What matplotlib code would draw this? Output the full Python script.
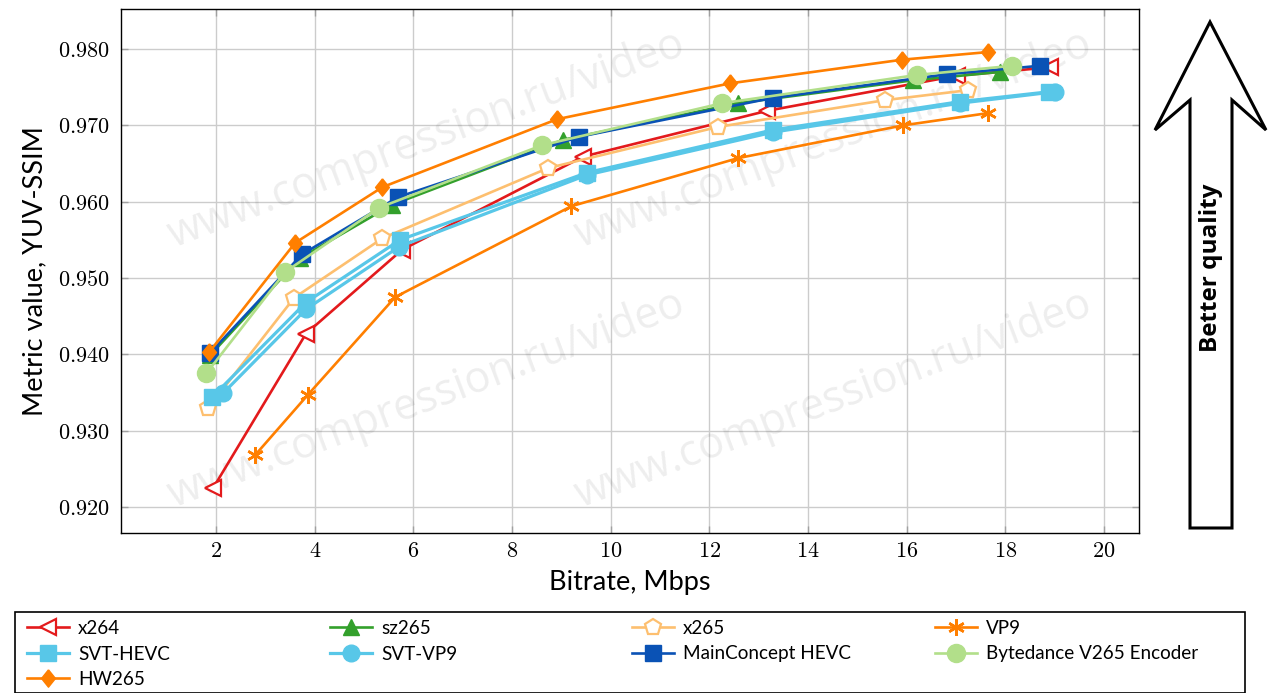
import matplotlib
matplotlib.use("Agg")
import matplotlib.pyplot as plt
from matplotlib.ticker import FuncFormatter, FixedLocator
from matplotlib.patches import Polygon, Rectangle

plt.rcParams['mathtext.fontset'] = 'cm'

# ---------------- data ----------------
x264_x = [1.94, 3.82, 5.77, 9.44, 13.17, 17.02, 18.91]
x264_y = [0.9225, 0.9427, 0.9537, 0.9659, 0.9719, 0.9765, 0.9776]

sz265_x = [1.88, 3.70, 5.57, 9.03, 12.58, 16.13, 17.89]
sz265_y = [0.9399, 0.9526, 0.9596, 0.9681, 0.9729, 0.9759, 0.9770]

x265_x = [1.84, 3.58, 5.37, 8.73, 12.18, 15.56, 17.24]
x265_y = [0.9330, 0.9474, 0.9552, 0.9644, 0.9698, 0.9733, 0.9746]

vp9_x = [2.79, 3.86, 5.63, 9.20, 12.58, 15.93, 17.65]
vp9_y = [0.9268, 0.9347, 0.9475, 0.9594, 0.9657, 0.9700, 0.9716]

svthevc_x = [1.92, 3.82, 5.73, 9.52, 13.29, 17.08, 18.89]
svthevc_y = [0.9344, 0.9468, 0.9550, 0.9638, 0.9694, 0.9731, 0.9744]

svtvp9_x = [2.14, 3.82, 5.71, 9.52, 13.29, 17.08, 19.01]
svtvp9_y = [0.9349, 0.9459, 0.9541, 0.9635, 0.9691, 0.9729, 0.9744]

mc_x = [1.88, 3.74, 5.69, 9.36, 13.29, 16.82, 18.70]
mc_y = [0.9402, 0.9531, 0.9606, 0.9685, 0.9736, 0.9767, 0.9778]

byte_x = [1.80, 3.40, 5.30, 8.61, 12.26, 16.21, 18.14]
byte_y = [0.9375, 0.9508, 0.9592, 0.9674, 0.9729, 0.9766, 0.9778]

hw_x = [1.86, 3.60, 5.37, 8.91, 12.42, 15.91, 17.65]
hw_y = [0.9403, 0.9546, 0.9619, 0.9708, 0.9755, 0.9786, 0.9796]

x_ticks = [2, 4, 6, 8, 10, 12, 14, 16, 18, 20]
y_ticks = [0.92, 0.93, 0.94, 0.95, 0.96, 0.97, 0.98]

# ---------------- figure ----------------
W, H = 1271, 693
fig = plt.figure(figsize=(W / 100, H / 100), dpi=100)
ax = fig.add_axes([121 / W, 1 - 533 / H, (1139 - 121) / W, (533 - 9) / H])

ax.set_xlim(0.07, 20.71)
ax.set_ylim(0.91659, 0.98524)

ax.xaxis.set_major_locator(FixedLocator(x_ticks))
ax.yaxis.set_major_locator(FixedLocator(y_ticks))
ax.xaxis.set_major_formatter(FuncFormatter(lambda v, p: r"$%d$" % round(v)))
ax.yaxis.set_major_formatter(FuncFormatter(lambda v, p: r"$%.3f$" % v))
ax.tick_params(axis='both', labelsize=16, direction='in', length=5, width=1,
               color='#a0a0a0', top=True, right=True)
ax.tick_params(axis='y', pad=8)
ax.tick_params(axis='x', pad=6)
ax.grid(True, color='#cccccc', linewidth=1.0, zorder=0)
ax.set_axisbelow(True)
for s in ax.spines.values():
    s.set_linewidth(1.0)
    s.set_color('black')

ax.set_xlabel("Bitrate, Mbps", fontsize=19.5, family='Lato', labelpad=6)
ax.set_ylabel("Metric value, YUV-SSIM", fontsize=19.5, family='Lato', labelpad=8)

# watermark
for (wx, wy) in [(0.30, 0.75), (0.70, 0.75), (0.30, 0.255), (0.70, 0.255)]:
    ax.text(wx, wy, "www.compression.ru/video", transform=ax.transAxes,
            fontsize=31, family='Open Sans', color='black', alpha=0.07,
            rotation=20.7, ha='center', va='center', zorder=1)

diamond = [(0, 1), (0.8, 0), (0, -1), (-0.8, 0), (0, 1)]

LW = 1.9
series = [
    ("x264", x264_x, x264_y, dict(color='#e31a1c', marker='<', ms=11, mfc='white', mec='#e31a1c', mew=1.6, lw=LW)),
    ("sz265", sz265_x, sz265_y, dict(color='#33a02c', marker='^', ms=11, mfc='#33a02c', mec='#33a02c', lw=LW)),
    ("x265", x265_x, x265_y, dict(color='#fdbf6f', marker='p', ms=12, mfc='white', mec='#fdbf6f', mew=1.6, lw=LW)),
    ("VP9", vp9_x, vp9_y, dict(color='#ff7f00', marker=(6, 2, 0), ms=12, mec='#ff7f00', mew=1.8, lw=LW)),
    ("SVT-HEVC", svthevc_x, svthevc_y, dict(color='#58c7e8', marker='s', ms=12, mfc='#58c7e8', mec='#58c7e8', lw=2.3)),
    ("SVT-VP9", svtvp9_x, svtvp9_y, dict(color='#58c7e8', marker='o', ms=12, mfc='#58c7e8', mec='#58c7e8', lw=2.3)),
    ("MainConcept HEVC", mc_x, mc_y, dict(color='#0a52b5', marker='s', ms=12, mfc='#0a52b5', mec='#0a52b5', lw=LW)),
    ("Bytedance V265 Encoder", byte_x, byte_y, dict(color='#b2df8a', marker='o', ms=13, mfc='#b2df8a', mec='#b2df8a', lw=LW)),
    ("HW265", hw_x, hw_y, dict(color='#ff7f00', marker=diamond, ms=12.5, mfc='#ff7f00', mec='#ff7f00', lw=LW)),
]

handles = {}
for i, (name, xs, ys, st) in enumerate(series):
    ln, = ax.plot(xs, ys, label=name, zorder=3 + i, clip_on=False, **st)
    handles[name] = ln

# legend frame
fig.patches.append(Rectangle((15 / W, 0.0), 1230 / W, (H - 612) / H, transform=fig.transFigure,
                             fill=False, edgecolor='black', linewidth=1.2, figure=fig))

cols = [
    (27, ["x264", "SVT-HEVC", "HW265"]),
    (330, ["sz265", "SVT-VP9"]),
    (632, ["x265", "MainConcept HEVC"]),
    (935, ["VP9", "Bytedance V265 Encoder"]),
]
for cx, names in cols:
    fig.legend([handles[n] for n in names], names, loc='upper left',
               bbox_to_anchor=(cx / W, 1 - 620 / H), bbox_transform=fig.transFigure,
               frameon=False, borderpad=0, borderaxespad=0,
               prop={'family': 'Lato', 'size': 13.6}, handlelength=2.2,
               handletextpad=0.5, labelspacing=0.45, markerscale=1.0)

# arrow
pts = [(1210, 22), (1266, 130), (1232, 100), (1232, 528), (1190, 528), (1190, 100), (1155, 130)]
fig.patches.append(Polygon([(px / W, 1 - py / H) for px, py in pts], closed=True,
                           transform=fig.transFigure, fill=False, edgecolor='black',
                           linewidth=2.2, joinstyle='miter', figure=fig))
fig.text(1211 / W, 1 - 268 / H, "Better quality", rotation=90, ha='center', va='center',
         fontsize=17.5, fontweight='bold', family='Open Sans')

fig.savefig("out.png", dpi=100)
